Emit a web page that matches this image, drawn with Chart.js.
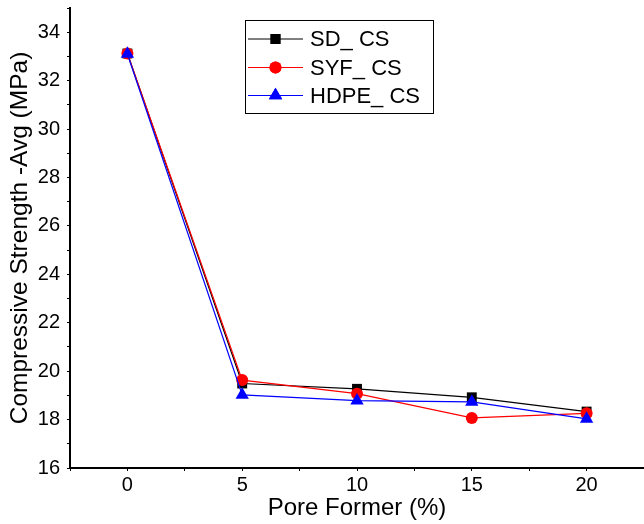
<!DOCTYPE html>
<html>
<head>
<meta charset="utf-8">
<script src="https://cdn.jsdelivr.net/npm/chart.js@4"></script>
<style>
  html, body { margin: 0; padding: 0; background: #fff; }
  #wrap { width: 644px; height: 524px; }
</style>
</head>
<body>
<div id="wrap"><canvas id="c" width="644" height="524"></canvas></div>
<script>
// Pore former content (%) and average compressive strength (MPa)
const poreFormer = [0, 5, 10, 15, 20];
const sdCS   = [33.12, 19.49, 19.27, 18.92, 18.33];
const syfCS  = [33.12, 19.63, 19.07, 18.07, 18.26];
const hdpeCS = [33.10, 19.02, 18.78, 18.73, 18.03];
const seriesLabels = ['SD_ CS', 'SYF_ CS', 'HDPE_ CS'];
const xTickLabels = ['0', '5', '10', '15', '20'];
const yTickLabels = ['16', '18', '20', '22', '24', '26', '28', '30', '32', '34'];

const FONT = '"Liberation Sans", Arial, sans-serif';

function toPoints(ys) {
  return poreFormer.map((x, i) => ({ x: x, y: ys[i] }));
}

const styles = [
  { color: '#000000', pointStyle: 'rect', radius: 7 },
  { color: '#ff0000', pointStyle: 'circle', radius: 6 },
  { color: '#0000ff', pointStyle: 'triangle', radius: 7.7 }
];

// Boxed legend in the upper middle of the plot
const boxLegend = {
  id: 'boxLegend',
  afterDatasetsDraw(chart) {
    const ctx = chart.ctx;
    const box = { x: 245.5, y: 20.5, w: 188, h: 93 };
    ctx.save();
    ctx.fillStyle = '#fff';
    ctx.fillRect(box.x, box.y, box.w, box.h);
    ctx.strokeStyle = '#000';
    ctx.lineWidth = 1;
    ctx.strokeRect(box.x, box.y, box.w, box.h);
    const rows = [39, 67.5, 95.5];
    chart.data.datasets.forEach((ds, i) => {
      const y = rows[i];
      const st = styles[i];
      ctx.strokeStyle = st.color;
      ctx.lineWidth = 1;
      ctx.beginPath();
      ctx.moveTo(248, y);
      ctx.lineTo(303, y);
      ctx.stroke();
      ctx.fillStyle = st.color;
      Chart.helpers.drawPoint(ctx, {
        pointStyle: st.pointStyle, radius: st.radius, rotation: 0, borderWidth: 0
      }, 275.5, y);
      ctx.fill();
      ctx.fillStyle = '#000';
      ctx.font = '22px ' + FONT;
      ctx.textBaseline = 'middle';
      ctx.textAlign = 'left';
      ctx.fillText(ds.label, 310, y + 1);
    });
    ctx.restore();
  }
};

const datasets = [sdCS, syfCS, hdpeCS].map((vals, i) => ({
  label: seriesLabels[i],
  data: toPoints(vals),
  borderColor: styles[i].color,
  backgroundColor: styles[i].color,
  borderWidth: 1.2,
  pointStyle: styles[i].pointStyle,
  pointRadius: styles[i].radius,
  pointHoverRadius: styles[i].radius,
  pointBorderWidth: 0,
  tension: 0,
  order: 2 - i
}));

new Chart(document.getElementById('c'), {
  type: 'line',
  data: { datasets: datasets },
  plugins: [boxLegend],
  options: {
    responsive: false,
    animation: false,
    events: [],
    layout: { autoPadding: false, padding: { top: 8, right: 0, left: 0, bottom: 0 } },
    plugins: { legend: { display: false }, tooltip: { enabled: false } },
    scales: {
      x: {
        type: 'linear',
        min: -2.5,
        max: 22.5,
        afterFit(scale) {
          scale.height = 56;
          scale.paddingLeft = 0;
          scale.paddingRight = 0;
        },
        afterBuildTicks(scale) {
          const t = [];
          for (let v = -2.5; v <= 22.5; v += 2.5) t.push({ value: v });
          scale.ticks = t;
        },
        ticks: {
          autoSkip: false,
          maxRotation: 0,
          padding: 2,
          color: '#000',
          font: { family: FONT, size: 20 },
          callback(v) {
            const i = poreFormer.indexOf(v);
            return i >= 0 ? xTickLabels[i] : '';
          }
        },
        grid: { drawOnChartArea: false, drawTicks: true, tickLength: 3, color: '#000', lineWidth: 1 },
        border: { display: true, color: '#000', width: 2 },
        title: {
          display: true,
          text: 'Pore Former (%)',
          color: '#000',
          font: { family: FONT, size: 24 },
          padding: { top: 0, bottom: 1 }
        }
      },
      y: {
        min: 16,
        max: 35,
        afterFit(scale) {
          scale.width = 70;
          scale.paddingTop = 0;
          scale.paddingBottom = 0;
        },
        afterBuildTicks(scale) {
          const t = [];
          for (let v = 16; v <= 35; v += 1) t.push({ value: v });
          scale.ticks = t;
        },
        ticks: {
          autoSkip: false,
          padding: 7,
          color: '#000',
          font: { family: FONT, size: 20 },
          callback(v) {
            const s = String(v);
            return yTickLabels.includes(s) ? s : '';
          }
        },
        grid: { drawOnChartArea: false, drawTicks: true, tickLength: 3, color: '#000', lineWidth: 1 },
        border: { display: true, color: '#000', width: 2 },
        title: {
          display: true,
          text: 'Compressive Strength -Avg (MPa)',
          color: '#000',
          font: { family: FONT, size: 24.5 },
          padding: { top: 6, bottom: 0 }
        }
      }
    }
  }
});
</script>
</body>
</html>
